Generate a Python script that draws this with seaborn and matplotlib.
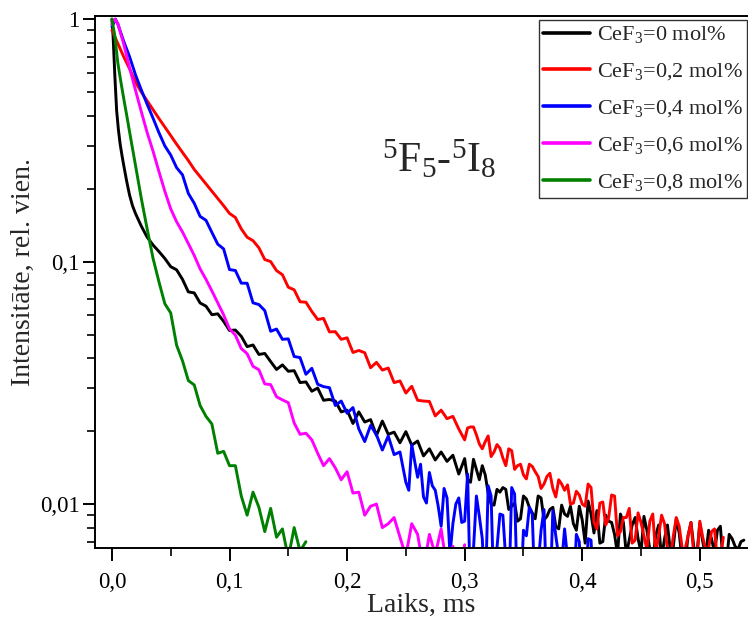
import matplotlib
matplotlib.use("Agg")
import matplotlib.pyplot as plt
import numpy as np
import pandas as pd
import seaborn as sns
from matplotlib.ticker import FixedLocator, FuncFormatter, LogLocator, NullFormatter

# ---------------- data ----------------
TIME = [0.000, 0.005, 0.010, 0.015, 0.020, 0.025, 0.030, 0.035, 0.040, 0.045,
        0.050, 0.055, 0.060, 0.065, 0.070, 0.075, 0.080, 0.085, 0.090, 0.095,
        0.100, 0.105, 0.110, 0.115, 0.120, 0.125, 0.130, 0.135, 0.140, 0.145,
        0.150, 0.155, 0.160, 0.165, 0.170, 0.175, 0.180, 0.185, 0.190, 0.195,
        0.200, 0.205, 0.210, 0.215, 0.220, 0.225, 0.230, 0.235, 0.240, 0.245,
        0.250, 0.255, 0.260, 0.265, 0.270, 0.275, 0.280, 0.285, 0.290, 0.295,
        0.300, 0.305, 0.310, 0.315, 0.320, 0.325, 0.330, 0.335, 0.340, 0.345,
        0.350, 0.355, 0.360, 0.365, 0.370, 0.375, 0.380, 0.385, 0.390, 0.395,
        0.400, 0.405, 0.410, 0.415, 0.420, 0.425, 0.430, 0.435, 0.440, 0.445,
        0.450, 0.455, 0.460, 0.465, 0.470, 0.475, 0.480, 0.485, 0.490, 0.495,
        0.500, 0.505, 0.510, 0.515, 0.520, 0.525, 0.530, 0.535, 0.540]

# extra sampling instants in the noisy tails (between the grid points above)
MID = [0.2525, 0.2575, 0.2625, 0.2675, 0.2725, 0.2775, 0.2825, 0.2875, 0.2925, 0.2975,
       0.3025, 0.3075, 0.3125, 0.3175, 0.3225, 0.3275, 0.3325, 0.3375, 0.3425, 0.3475,
       0.3525, 0.3575, 0.3625, 0.3675, 0.3725, 0.3775, 0.3825, 0.3875, 0.3925, 0.3975,
       0.4025, 0.4075, 0.4125, 0.4175, 0.4225, 0.4275, 0.4325, 0.4375, 0.4425, 0.4475,
       0.4525, 0.4575, 0.4625, 0.4675, 0.4725, 0.4775, 0.4825, 0.4875, 0.4925, 0.4975,
       0.5025, 0.5075, 0.5125, 0.5175, 0.5225, 0.5275, 0.5325, 0.5375]

labels = ["CeF$_3$=0 mol%", "CeF$_3$=0,2 mol%", "CeF$_3$=0,4 mol%",
          "CeF$_3$=0,6 mol%", "CeF$_3$=0,8 mol%"]
colors = ["#000000", "#ff0000", "#0000ff", "#ff00ff", "#008000"]

# CeF3 = 0 mol%
black_t = [0.0, 0.001, 0.0025, 0.004, 0.0055, 0.007, 0.0085, 0.01, 0.0125,
           0.015, 0.0175, 0.02, 0.025, 0.03, 0.035, 0.04, 0.045] + TIME[10:108] + MID[10:58]
black_y = [1.0, 0.85, 0.58, 0.42, 0.35, 0.305, 0.275, 0.25, 0.215, 0.188, 0.17,
           0.158, 0.14, 0.126, 0.117, 0.11, 0.103,
           0.0953, 0.0925, 0.0845, 0.075, 0.0743, 0.0675, 0.0655, 0.0604, 0.0609, 0.0567,
           0.0520, 0.0522, 0.0492, 0.0446, 0.0453, 0.0414, 0.0418, 0.0387, 0.0359, 0.0375,
           0.0353, 0.0355, 0.0317, 0.0319, 0.0292, 0.0301, 0.0268, 0.0270, 0.0266, 0.0240,
           0.0244, 0.0215, 0.0240, 0.0218, 0.0223, 0.0192, 0.0220, 0.0194, 0.0198, 0.0179,
           0.0199, 0.0175, 0.0182, 0.0158, 0.0169, 0.0152, 0.0164, 0.0150, 0.0159, 0.0133,
           0.0154, 0.0123, 0.0139, 0.0144, 0.0111, 0.0099, 0.0112, 0.0115, 0.0098, 0.0085,
           0.0108, 0.0097, 0.0087, 0.0106, 0.0089, 0.0097, 0.0079, 0.0091, 0.0098, 0.0078,
           0.0086, 0.0103, 0.0076, 0.0069, 0.0090, 0.0084, 0.0062, 0.0084, 0.0071, 0.0088,
           0.0063, 0.0078, 0.0060, 0.0082, 0.0072, 0.0064, 0.0087, 0.0058, 0.0074, 0.0066,
           0.0083, 0.0061, 0.0072, 0.0078, 0.0056, 0.0075, 0.0067, 0.0070,
           # tail, between grid points
           0.0126, 0.0153, 0.0126, 0.0132, 0.0100, 0.0115, 0.0117, 0.0095, 0.0101, 0.0087,
           0.0105, 0.0092, 0.0108, 0.0086, 0.0095, 0.0081, 0.0099, 0.0089, 0.0083, 0.0098,
           0.0069, 0.0091, 0.0094, 0.0070, 0.0085, 0.0075, 0.0091, 0.0062, 0.0082, 0.0072,
           0.0089, 0.0065, 0.0074, 0.0060, 0.0082, 0.0067, 0.0076, 0.0057, 0.0084, 0.0062,
           0.0070, 0.0078, 0.0063, 0.0081, 0.0056, 0.0072, 0.0065, 0.0071]

# CeF3 = 0,2 mol%
red_t = TIME[0:105] + MID[10:54]
red_y = [0.90, 0.794, 0.70, 0.624, 0.55, 0.50, 0.46, 0.424, 0.389, 0.359,
         0.331, 0.305, 0.282, 0.261, 0.240, 0.224, 0.209, 0.195, 0.182, 0.170,
         0.158, 0.152, 0.1365, 0.126, 0.122, 0.114, 0.102, 0.100, 0.0918, 0.0883,
         0.0784, 0.0765, 0.0683, 0.068, 0.0623, 0.0577, 0.0583, 0.0513, 0.0514, 0.0478,
         0.0485, 0.0422, 0.0430, 0.0421, 0.0365, 0.0384, 0.0357, 0.0364, 0.0317, 0.0322,
         0.0287, 0.0306, 0.0268, 0.0266, 0.0265, 0.0231, 0.0244, 0.0225, 0.0230, 0.0204,
         0.0184, 0.0208, 0.0193, 0.0169, 0.0191, 0.0164, 0.0170, 0.0144, 0.0166, 0.0144,
         0.0132, 0.0146, 0.0136, 0.0116, 0.0130, 0.0116, 0.0126, 0.0114, 0.0100, 0.0113,
         0.0100, 0.0121, 0.0084, 0.0101, 0.0082, 0.0109, 0.0074, 0.0088, 0.0096, 0.0071,
         0.0084, 0.0065, 0.0091, 0.0074, 0.0083, 0.0060, 0.0088, 0.0066, 0.0074, 0.0061,
         0.0085, 0.0065, 0.0077, 0.0058, 0.0073,
         # tail, between grid points
         0.0206, 0.0208, 0.0177, 0.0181, 0.0157, 0.0176, 0.0155, 0.0169, 0.0139, 0.0146,
         0.0127, 0.0143, 0.0130, 0.0121, 0.0134, 0.0107, 0.0121, 0.0120, 0.0101, 0.0109,
         0.0098, 0.0117, 0.0079, 0.0102, 0.0088, 0.0108, 0.0077, 0.0088, 0.0069, 0.0092,
         0.0074, 0.0085, 0.0062, 0.0090, 0.0065, 0.0074, 0.0081, 0.0065, 0.0084, 0.0058,
         0.0073, 0.0066, 0.0079, 0.0059]

# CeF3 = 0,4 mol%
blue_t = [0.0, 0.003] + TIME[1:83] + MID[0:32]
blue_y = [0.93, 1.0,
          0.955, 0.81, 0.70, 0.59, 0.51, 0.445, 0.39, 0.34, 0.30,
          0.275, 0.244, 0.228, 0.191, 0.174, 0.1536, 0.148, 0.132, 0.118, 0.1128,
          0.0927, 0.0919, 0.0815, 0.0814, 0.0676, 0.0665, 0.0628, 0.0516, 0.0527, 0.0478,
          0.0480, 0.0406, 0.0402, 0.0343, 0.0363, 0.0312, 0.0305, 0.0302, 0.0255, 0.0266,
          0.0237, 0.0250, 0.0204, 0.0181, 0.0211, 0.0193, 0.0167, 0.0191, 0.0160, 0.0164,
          0.0123, 0.0176, 0.0129, 0.0107, 0.0135, 0.0114, 0.0081, 0.0106, 0.0083, 0.0106,
          0.0085, 0.0040, 0.0108, 0.0072, 0.0119, 0.0040, 0.0091, 0.0059, 0.0117, 0.0040,
          0.0078, 0.0097, 0.0040, 0.0078, 0.0040, 0.0094, 0.0061, 0.0079, 0.0040, 0.0075,
          0.0040, 0.0072, 0.0040,
          # tail, between grid points
          0.0114, 0.0150, 0.0146, 0.0101, 0.0119, 0.0098, 0.0116, 0.0062, 0.0100, 0.0084,
          0.0133, 0.0065, 0.0089, 0.0040, 0.0108, 0.0066, 0.0090, 0.0040, 0.0110, 0.0040,
          0.0074, 0.0091, 0.0056, 0.0095, 0.0040, 0.0074, 0.0057, 0.0060, 0.0040, 0.0070,
          0.0040, 0.0071]

# CeF3 = 0,6 mol%
magenta_t = [0.0, 0.0025] + TIME[1:61]
magenta_y = [0.95, 1.0,
             0.96, 0.79, 0.63, 0.51, 0.415, 0.34, 0.285, 0.235, 0.195,
             0.165, 0.146, 0.1325, 0.1186, 0.106, 0.0933, 0.0845, 0.0757, 0.0676, 0.0603,
             0.0528, 0.0497, 0.0438, 0.0417, 0.0370, 0.0358, 0.0313, 0.0311, 0.0277, 0.0269,
             0.0262, 0.0216, 0.0194, 0.0196, 0.0184, 0.0162, 0.0144, 0.0154, 0.0141, 0.0126,
             0.0136, 0.0111, 0.0112, 0.0090, 0.0098, 0.0100, 0.0080, 0.0083, 0.0088, 0.0073,
             0.0061, 0.0083, 0.0075, 0.0054, 0.0075, 0.0062, 0.0079, 0.0054, 0.0067, 0.0049,
             0.0068]

# CeF3 = 0,8 mol%
green_t = [0.0, 0.0025, 0.005, 0.0075, 0.01, 0.0125, 0.015, 0.02, 0.025, 0.03,
           0.035] + TIME[8:34]
green_y = [1.0, 0.85, 0.66, 0.555, 0.471, 0.403, 0.343, 0.25, 0.182, 0.136, 0.103,
           0.0825, 0.0670, 0.0614, 0.0452, 0.0390, 0.0323, 0.0310, 0.0255, 0.0230, 0.0214,
           0.0162, 0.0165,
           0.0144, 0.0144, 0.0108, 0.0090, 0.0112, 0.0097, 0.0077, 0.0096, 0.0073, 0.0079,
           0.0060, 0.0080, 0.0064, 0.0070]

series_t = [black_t, red_t, blue_t, magenta_t, green_t]
series_y = [black_y, red_y, blue_y, magenta_y, green_y]

# ---------------- figure ----------------
sns.set_style("ticks")
plt.rcParams['font.family'] = ['Liberation Serif', 'DejaVu Serif']
plt.rcParams['mathtext.fontset'] = 'custom'
plt.rcParams['mathtext.rm'] = 'Liberation Serif'
plt.rcParams['mathtext.it'] = 'Liberation Serif:italic'
plt.rcParams['mathtext.bf'] = 'Liberation Serif:bold'
plt.rcParams['axes.unicode_minus'] = False

frames = []
for lab, t, y in zip(labels, series_t, series_y):
    frames.append(pd.DataFrame({"t": t, "I": y, "series": lab}))
df = pd.concat(frames, ignore_index=True)

W, H = 748, 635
fig = plt.figure(figsize=(W / 100, H / 100), dpi=100)
ax = fig.add_axes([95 / W, 1 - 548 / H, 1 - 95 / W, (548 - 16) / H])

sns.lineplot(data=df, x="t", y="I", hue="series", hue_order=labels,
             palette=colors, linewidth=2.1, estimator=None, sort=True, ax=ax)

ax.set_yscale("log")
ax.set_xlim(-0.0144, 0.541)
ax.set_ylim(0.00659, 1.03)

ax.xaxis.set_major_locator(FixedLocator([0.0, 0.1, 0.2, 0.3, 0.4, 0.5]))
ax.xaxis.set_minor_locator(FixedLocator([0.05, 0.15, 0.25, 0.35, 0.45]))
ax.xaxis.set_major_formatter(FuncFormatter(lambda v, p: f"{v:.1f}".replace(".", ",")))
ax.yaxis.set_major_locator(FixedLocator([0.01, 0.1, 1.0]))
ax.yaxis.set_major_formatter(FuncFormatter(
    lambda v, p: {0.01: "0,01", 0.1: "0,1", 1.0: "1"}.get(round(v, 4), "")))
ax.yaxis.set_minor_locator(LogLocator(base=10, subs=np.arange(2, 10), numticks=20))
ax.yaxis.set_minor_formatter(NullFormatter())

ax.tick_params(which="major", direction="out", length=9, width=1.4,
               labelsize=16.5, color="black", labelcolor="black")
ax.tick_params(which="minor", direction="out", length=5.5, width=1.2, color="black")
ax.tick_params(axis="x", which="major", pad=8)
ax.tick_params(axis="y", which="major", pad=2)
ax.tick_params(top=False, right=False, which="both")

for side in ["left", "bottom", "top"]:
    ax.spines[side].set_linewidth(1.4)
    ax.spines[side].set_color("black")
ax.spines["right"].set_visible(False)

ax.set_xlabel("Laiks, ms", fontsize=20)
ax.set_ylabel("Intensitāte, rel. vien.", fontsize=20)
ax.xaxis.set_label_coords((421 - 95) / (W - 95), (548 - 605) / (548 - 16),
                          transform=ax.transAxes)
ax.yaxis.set_label_coords((23 - 95) / (W - 95), (548 - 272) / (548 - 16),
                          transform=ax.transAxes)
ax.xaxis.label.set_va("center")
ax.yaxis.label.set_va("center")

ax.text(382 / W, 1 - 172 / H, "$^5$F$_5$-$^5$I$_8$", transform=fig.transFigure,
        fontsize=30, ha="left", va="baseline")

leg = ax.legend(loc="upper right", bbox_to_anchor=(747 / W, 1 - 20 / H),
                bbox_transform=fig.transFigure, borderaxespad=0, fontsize=16,
                frameon=True, fancybox=False, handlelength=2.1, handletextpad=0.3,
                labelspacing=0.72, borderpad=0.2, title=None)
leg.get_frame().set_edgecolor("black")
leg.get_frame().set_linewidth(1.0)
for line in leg.get_lines():
    line.set_linewidth(2.6)

fig.savefig("out.png", dpi=100)
